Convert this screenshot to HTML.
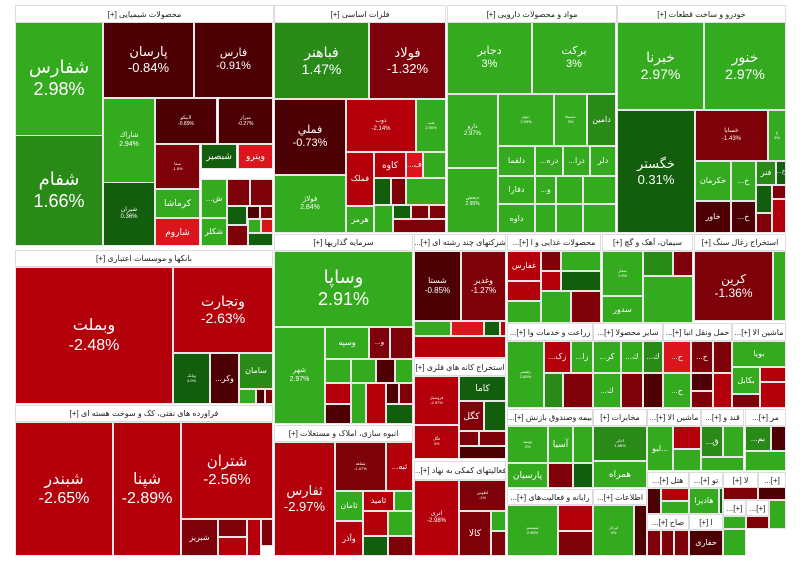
<!DOCTYPE html>
<html><head><meta charset="utf-8"><style>
body{margin:0;width:800px;height:571px;background:#fff;position:relative;overflow:hidden;font-family:"Liberation Sans","DejaVu Sans",sans-serif}
.t{position:absolute;box-sizing:border-box;border:1px solid #e6e6e6;color:#fff;display:flex;flex-direction:column;align-items:center;justify-content:center;text-align:center;overflow:hidden;line-height:1.2;white-space:nowrap}
.h{position:absolute;box-sizing:border-box;background:#fff;border:1px solid #ddd;color:#222;font-size:8px;display:flex;align-items:center;justify-content:center;overflow:hidden;white-space:nowrap;direction:rtl}
</style></head><body>
<script>
const G='#34aa1e',M='#2a8a18',D='#135e0c',R='#b3000a',B='#dc141c',K='#7e0008',X='#4d0004';
const headers=[
[15,5,273,22,'محصولات شیمیایی [+]'],[274,5,445,22,'فلزات اساسی [+]'],[447,5,616,22,'مواد و محصولات دارویی [+]'],[617,5,785,22,'خودرو و ساخت قطعات [+]'],
[15,250,272,266,'بانکها و موسسات اعتباری [+]'],[15,405,272,421,'فراورده های نفتی، کک و سوخت هسته ای [+]'],[274,234,412,250,'سرمایه گذاریها [+]'],[274,425,412,441,'انبوه سازی، املاک و مستغلات [+]'],
[414,234,505,250,'شرکتهای چند رشته ای [+]...'],[414,358,505,375,'استخراج کانه های فلزی [+]'],[414,461,505,479,'فعالیتهای کمکی به نهاد [+]...'],
[507,234,600,250,'محصولات غذایی و ا [+]...'],[602,234,692,250,'سیمان، آهک و گچ [+]'],[694,234,785,250,'استخراج زغال سنگ [+]'],
[507,323,592,340,'زراعت و خدمات وا [+]...'],[593,323,662,340,'سایر محصولا [+]...'],[663,323,731,340,'حمل ونقل انبا [+]...'],[732,323,785,340,'ماشین الا [+]...'],
[507,409,592,425,'بیمه وصندوق بازنش [+]...'],[593,409,646,425,'مخابرات [+]'],[647,409,700,425,'ماشین الا [+]...'],[701,409,743,425,'قند و [+]...'],[745,409,785,425,'مر [+]...'],
[507,489,592,504,'رایانه و فعالیت‌های [+]...'],[593,489,646,504,'اطلاعات [+]...'],[647,472,688,487,'هتل [+]...'],[689,472,722,487,'تو [+]...'],[723,472,757,487,'لا [+]'],[758,472,785,487,'[+]...'],
[647,514,688,529,'صاح [+]...'],[689,514,722,529,'ا [+]'],[723,500,745,515,'[+]...'],[746,500,768,515,'[+]...']];
const tiles=[
[15,22,102,135,G,'شفارس','2.98%',18],[15,135,102,245,M,'شفام','1.66%',18],[103,22,193,97,X,'پارسان','-0.84%',13],[194,22,272,97,X,'فارس','-0.91%',11],
[103,98,154,182,G,'شاراك','2.94%',7],[103,182,154,245,D,'شیران','0.36%',6],[155,98,216,143,X,'لابیکو','-0.89%',5],[218,98,272,143,X,'میراز','-0.27%',5],
[155,144,199,188,K,'سفا','-1.8%',4],[201,144,236,168,D,'شبصیر','',9],[238,144,272,168,B,'ویترو','',9],[155,189,199,217,G,'كرماشا','',9],[155,218,199,245,B,'شاروم','',9],
[201,179,226,217,G,'ش...','',8],[201,218,226,245,G,'شکلر','',8],[227,179,249,205,K,'','',8],[250,179,272,205,K,'','',8],[227,206,246,224,D,'','',8],[247,206,259,218,X,'','',8],[260,206,272,218,K,'','',8],[227,225,247,245,K,'','',8],[248,219,260,232,G,'','',8],[261,219,272,232,B,'','',8],[248,233,272,245,D,'','',8],
[274,22,368,98,M,'فباهنر','1.47%',14],[369,22,445,98,K,'فولاد','-1.32%',13],[274,99,345,174,X,'فملي','-0.73%',11],[274,175,345,232,G,'فولاژ','2.84%',7],[346,99,415,151,R,'ذوب','-2.14%',6],[416,99,445,151,G,'شت','2.95%',4],
[346,152,373,205,R,'فملک','',8],[374,152,405,177,R,'کاوه','',9],[406,152,422,177,B,'ف...','',8],[423,152,445,177,G,'','',8],[374,178,390,204,D,'','',8],[391,178,405,204,K,'','',8],[406,178,445,204,G,'','',8],[346,206,373,232,G,'هرمز','',8],[374,205,392,232,G,'','',8],[393,205,410,218,D,'','',8],[411,205,428,218,K,'','',8],[429,205,445,218,K,'','',8],[393,219,445,232,K,'','',8],
[447,22,531,93,G,'دجابر','3%',11],[532,22,615,93,G,'برکت','3%',11],[447,94,497,167,G,'دارو','2.97%',6],[498,94,553,145,G,'دتوم','2.95%',4],[554,94,586,145,G,'دسبحا','3%',4],[587,94,615,145,M,'دامین','',8],
[447,168,497,232,G,'دپخش','2.95%',5],[498,146,534,175,G,'دلقما','',8],[535,146,562,175,G,'دره...','',8],[563,146,589,175,G,'دزا...','',8],[590,146,615,175,G,'دلر','',8],[498,176,534,203,G,'دفارا','',8],[535,176,555,203,G,'و...','',8],[498,204,534,232,G,'داوه','',8],[535,204,555,232,G,'','',8],[556,176,582,203,G,'','',8],[583,176,615,203,G,'','',8],[556,204,582,232,G,'','',8],[583,204,615,232,G,'','',8],
[617,22,703,109,G,'خبرنا','2.97%',14],[704,22,785,109,G,'خنور','2.97%',14],[617,110,694,232,D,'خگستر','0.31%',13],[695,110,767,160,K,'خسابا','-1.43%',6],[768,110,785,160,G,'خ','3%',4],
[695,161,730,200,G,'خکرمان','',8],[731,161,755,200,G,'خ...','',8],[756,161,775,184,M,'فنر','',8],[776,161,785,184,D,'خ...','',6],[695,201,730,232,X,'خاور','',8],[731,201,755,232,X,'خ...','',8],[756,185,771,212,D,'','',8],[772,185,785,198,K,'','',8],[756,213,771,232,K,'','',8],[772,199,785,232,R,'','',8],
[15,267,172,403,R,'وبملت','-2.48%',16],[173,267,272,352,R,'وتجارت','-2.63%',14],[173,353,209,403,D,'وبانک','4.0%',4],[210,353,238,403,X,'وکر...','',8],[239,353,272,388,M,'سامان','',8],[239,389,255,403,G,'','',8],[256,389,264,403,X,'','',8],[265,389,272,403,K,'','',8],
[15,422,112,555,R,'شبندر','-2.65%',16],[113,422,180,555,R,'شپنا','-2.89%',16],[181,422,272,518,R,'شتران','-2.56%',15],[181,519,217,555,K,'شبریز','',8],[218,519,246,536,K,'','',8],[247,519,260,555,R,'','',8],[261,519,272,545,K,'','',8],[218,537,246,555,R,'','',8],
[274,251,412,326,G,'وساپا','2.91%',18],[274,327,324,423,G,'شهر','2.97%',7],[325,327,368,358,G,'وسپه','',8],[369,327,389,358,K,'و...','',7],[390,327,412,358,K,'','',8],[325,359,350,382,G,'','',8],[351,359,375,382,G,'','',8],[376,359,394,382,X,'','',8],[395,359,412,382,G,'','',8],[325,383,350,403,R,'','',8],[325,404,350,423,X,'','',8],[351,383,365,423,G,'','',8],[366,383,385,423,R,'','',8],[386,383,398,403,X,'','',8],[399,383,412,403,K,'','',8],[386,404,412,423,D,'','',8],
[274,442,334,555,R,'ثفارس','-2.97%',13],[335,442,385,490,K,'ثشاهد','-1.67%',4],[386,442,412,490,R,'ثبه...','',8],[335,491,362,520,G,'ثامان','',8],[363,491,393,510,R,'ثامید','',8],[394,491,412,510,G,'','',8],[335,521,362,555,R,'وآذر','',8],[363,511,387,535,R,'','',8],[388,511,412,535,G,'','',8],[363,536,387,555,D,'','',8],[388,536,412,555,K,'','',8],
[414,251,460,320,X,'شستا','-0.85%',8],[461,251,505,320,K,'وغدیر','-1.27%',8],[414,321,450,335,G,'','',8],[451,321,483,335,B,'','',8],[484,321,499,335,D,'','',8],[500,321,505,335,R,'','',8],
[414,336,505,357,R,'','',8],
[414,376,458,424,R,'فروسیل','-2.97%',4],[459,376,505,400,D,'کاما','',9],[459,401,483,430,K,'کگل','',9],[484,401,505,430,D,'','',8],[414,425,458,458,R,'فگل','3%',4],[459,431,478,445,K,'','',8],[479,431,505,445,K,'','',8],[459,446,505,458,X,'','',8],
[414,480,458,555,R,'اتری','-2.98%',6],[459,480,505,510,K,'لطوس','-1%',4],[459,511,490,555,K,'کالا','',9],[491,511,505,530,G,'','',8],[491,531,505,555,K,'','',8],
[507,251,540,280,R,'غفارس','',8],[507,281,540,300,R,'','',8],[507,301,540,322,G,'','',8],[541,251,560,270,K,'','',8],[561,251,600,270,G,'','',8],[541,271,560,290,R,'','',8],[561,271,600,290,D,'','',8],[541,291,570,322,G,'','',8],[571,291,600,322,K,'','',8],
[602,251,642,295,G,'سفار','1.9%',4],[602,296,642,322,G,'سدور','',8],[643,251,672,275,M,'','',8],[673,251,692,275,K,'','',8],[643,276,692,322,G,'','',8],
[694,251,772,320,K,'کرین','-1.36%',12],[773,251,785,320,G,'','',8],
[507,341,543,407,G,'زقیصر','2.88%',4],[544,341,570,372,R,'زک...','',8],[571,341,592,372,G,'زا...','',8],[544,373,562,407,M,'','',8],[563,373,592,407,K,'','',8],
[593,341,620,372,G,'کر...','',8],[621,341,642,372,G,'ك...','',8],[643,341,662,372,M,'ك...','',8],[593,373,620,407,G,'ك...','',8],[621,373,642,407,K,'','',8],[643,373,662,407,X,'','',8],
[663,341,690,372,B,'ح...','',8],[691,341,712,372,K,'ح...','',8],[713,341,731,372,K,'','',8],[663,373,690,407,G,'ح...','',8],[691,373,712,390,X,'','',8],[713,373,731,407,R,'','',8],[691,391,712,407,K,'','',8],
[732,341,785,366,G,'بویا','',8],[732,367,759,393,G,'بکابل','',8],[760,367,785,381,R,'','',8],[760,382,785,407,R,'','',8],[732,394,759,407,K,'','',8],
[507,426,547,462,G,'وبیمه','3%',4],[548,426,572,462,G,'آسیا','',9],[573,426,592,462,G,'','',8],[507,463,547,487,G,'پارسیان','',9],[548,463,572,487,K,'','',8],[573,463,592,487,D,'','',8],
[593,426,646,460,M,'اخابر','1.88%',4],[593,461,646,487,G,'همراه','',9],
[647,426,672,470,G,'...لبو','',8],[673,426,700,448,R,'','',8],[673,449,700,470,G,'','',8],
[701,426,722,456,M,'ق...','',8],[723,426,743,456,G,'','',8],[701,457,743,470,G,'','',8],
[745,426,770,450,M,'بم...','',8],[771,426,785,450,X,'','',8],[745,451,785,470,G,'','',8],
[507,505,557,555,G,'سیستم','2.96%',4],[558,505,592,530,R,'','',8],[558,531,592,555,K,'','',8],
[593,505,633,555,G,'اپرداز','3%',4],[634,505,646,555,X,'','',8],
[647,488,660,513,X,'','',8],[661,488,688,500,R,'','',8],[661,501,688,513,G,'','',8],[689,488,718,513,G,'هادیرا','',8],[719,488,722,513,D,'','',8],
[647,530,660,555,K,'','',8],[661,530,673,555,K,'','',8],[674,530,688,555,K,'','',8],[689,530,722,555,X,'حفاری','',8],
[723,487,757,499,K,'','',8],[758,487,785,499,X,'','',8],[723,516,745,528,G,'','',8],[746,516,768,528,K,'','',8],[769,500,785,528,G,'','',8],[723,529,745,555,G,'','',8]];
let html='';
for(const t of tiles){
 const [x1,y1,x2,y2,c,n,p,fs]=t;
 html+=`<div class="t" style="left:${x1}px;top:${y1}px;width:${x2-x1+1}px;height:${y2-y1+1}px;background:${c};font-size:${fs}px;font-family:'Liberation Sans','DejaVu Sans',sans-serif"><span dir="rtl">${n}</span>${p?`<span style="font-size:${fs}px">${p}</span>`:''}</div>`;
}
for(const h of headers){
 const [x1,y1,x2,y2,l]=h;
 html+=`<div class="h" style="left:${x1}px;top:${y1}px;width:${x2-x1+1}px;height:${y2-y1+1}px">${l}</div>`;
}
document.body.insertAdjacentHTML('beforeend',html);
</script>
</body></html>
